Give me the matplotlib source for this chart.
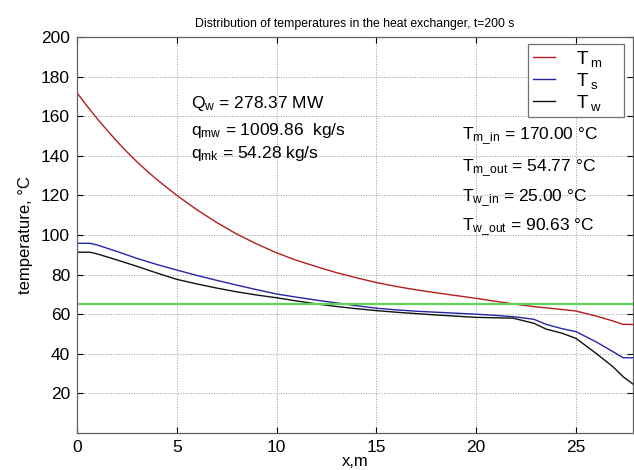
import numpy as np
import matplotlib
matplotlib.use("Agg")
import matplotlib.pyplot as plt

plt.rcParams['font.family'] = ['Liberation Sans', 'DejaVu Sans']
plt.rcParams['mathtext.fontset'] = 'custom'
plt.rcParams['mathtext.rm'] = 'Liberation Sans'
plt.rcParams['mathtext.it'] = 'Liberation Sans:italic'

# data
x_m = [0, 0.5, 1, 1.5, 2, 2.5, 3, 3.5, 4, 5, 6, 7, 8, 9, 10, 11, 12, 13, 14,
       15, 16, 17, 18, 19, 20, 21, 22, 23, 24, 25, 26, 26.85, 27.35, 27.86]
T_m = [171.8, 165.2, 158.9, 153.0, 147.3, 142.0, 137.0, 132.4, 128.0, 120.0,
       112.8, 106.3, 100.5, 95.5, 91.0, 87.2, 84.0, 81.0, 78.4, 76.0, 74.0,
       72.3, 70.8, 69.4, 68.0, 66.5, 65.0, 63.7, 62.7, 61.6, 59.1, 56.6, 54.9, 54.8]

x_s = [0, 0.65, 1, 2, 3, 4, 5, 6, 7, 8, 9, 10, 11, 12, 13, 14, 15, 16, 17,
       18, 19, 20, 21, 22, 22.9, 23.5, 24.3, 25, 26, 26.85, 27.37, 27.86]
T_s = [95.8, 95.8, 95, 91.7, 88.2, 85.1, 82.3, 79.6, 77.1, 74.7, 72.4, 70.2,
       68.6, 67.1, 65.7, 64.3, 63.0, 62.2, 61.5, 61.0, 60.5, 60.0, 59.4, 58.6,
       57.4, 54.9, 52.7, 51.2, 46.1, 41.1, 38.0, 38.0]

x_w = [0, 0.65, 1, 2, 3, 4, 5, 6, 7, 8, 9, 10, 11, 12, 13, 14, 15, 16, 17,
       18, 19, 20, 21, 21.85, 22.9, 23.5, 24.3, 25, 26, 26.85, 27.37, 27.86]
T_w = [91.3, 91.3, 90.5, 87.4, 84.2, 80.8, 77.6, 75.3, 73.2, 71.3, 69.7, 68.3,
       66.7, 65.2, 63.9, 62.8, 61.8, 61.0, 60.3, 59.6, 59.0, 58.4, 58.2, 58.0,
       55.4, 52.5, 50.4, 47.8, 40.3, 33.5, 28.4, 24.7]

T_ref = 65.2
L = 27.86

left_text = [r'$\mathregular{Q_w}$ = 278.37 MW',
             r'$\mathregular{q_{mw}}$ = 1009.86  kg/s',
             r'$\mathregular{q_{mk}}$ = 54.28 kg/s']
left_y = [166.5, 153, 141]
right_text = [r'$\mathregular{T_{m\_in}}$ = 170.00 °C',
              r'$\mathregular{T_{m\_out}}$ = 54.77 °C',
              r'$\mathregular{T_{w\_in}}$ = 25.00 °C',
              r'$\mathregular{T_{w\_out}}$ = 90.63 °C']
right_y = [150, 133.7, 118.5, 104.2]

pad = '\u00a0' * 4

fig = plt.figure(figsize=(6.34, 4.70), dpi=100)
ax = fig.add_axes([77/634, 37/470, 556/634, 396/470])

ax.plot(x_m, T_m, color='#b51d1d', lw=1.0, label=r'$\mathregular{T_{\;m}}$' + pad)
ax.plot(x_s, T_s, color='#2424a8', lw=1.0, label=r'$\mathregular{T_{\;s}}$' + pad)
ax.plot(x_w, T_w, color='#111111', lw=1.0, label=r'$\mathregular{T_{\;w}}$' + pad)
ax.plot([0, L], [T_ref, T_ref], color='#5ed65e', lw=1.6)

ax.set_xlim(0, L)
ax.set_ylim(0, 200)
ax.set_xticks([0, 5, 10, 15, 20, 25])
ax.set_yticks(np.arange(20, 201, 20))
ax.tick_params(direction='in', top=True, right=True, length=4,
               labelsize=12.5, pad=5, width=0.8)
ax.grid(True, linestyle=':', color='#9a9a9a', lw=0.7)
for s in ax.spines.values():
    s.set_color('#606060')
    s.set_linewidth(0.9)

ax.set_xlabel('x,m', fontsize=12, labelpad=-1)
ax.set_ylabel('temperature, °C', fontsize=12, labelpad=6)
fig.text(355/634, 1 - 24/470, 'Distribution of temperatures in the heat exchanger, t=200 s',
         ha='center', va='center', fontsize=8.8)

for t, y in zip(left_text, left_y):
    ax.text(5.7, y, t, fontsize=12.5, va='center')
for t, y in zip(right_text, right_y):
    ax.text(19.3, y, t, fontsize=12.5, va='center')

leg = ax.legend(loc='upper right', bbox_to_anchor=(0.984, 0.982), borderaxespad=0,
                fontsize=13.5, handlelength=1.2, handletextpad=1.1, labelspacing=0.1,
                fancybox=False, framealpha=1, borderpad=0.25)
leg.get_frame().set_edgecolor('#707070')
leg.get_frame().set_linewidth(0.9)

fig.savefig('out.png', dpi=100)
